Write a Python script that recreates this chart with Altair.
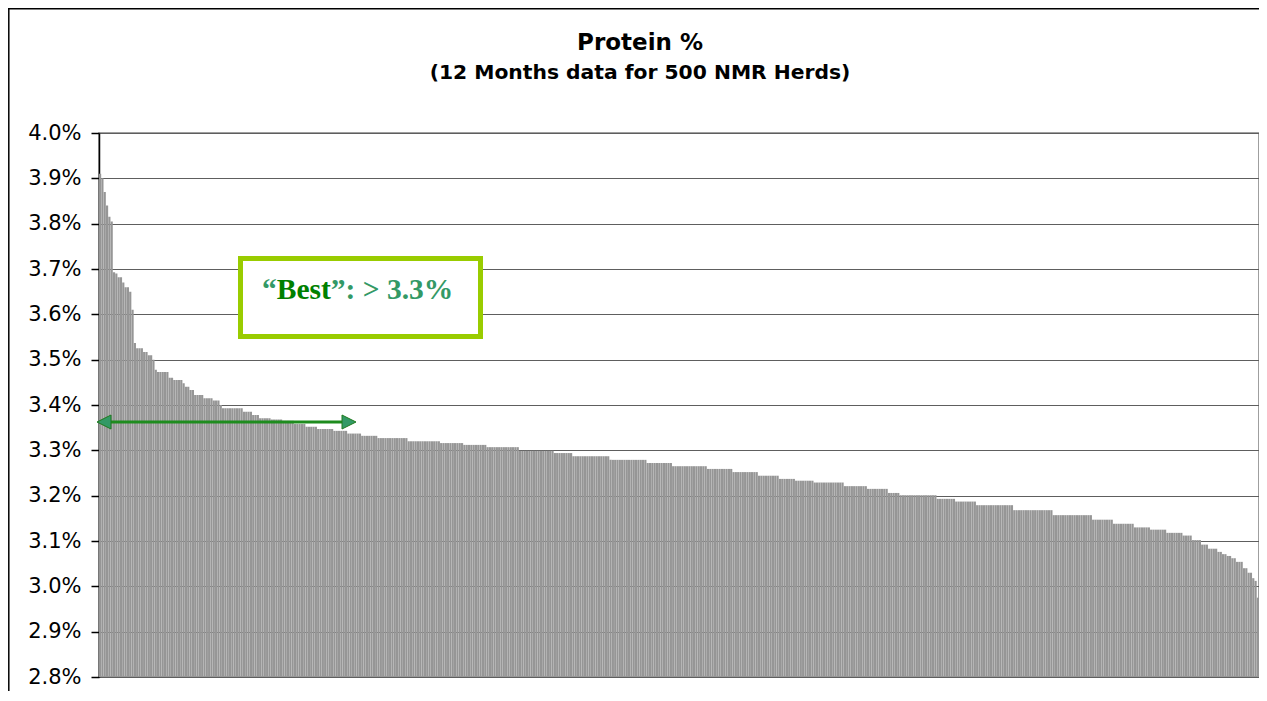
import altair as alt
import pandas as pd

protein_levels = [
    3.91, 3.90, 3.87, 3.84, 3.815, 3.805, 3.693, 3.69, 3.682, 3.67,
    3.66, 3.65, 3.61, 3.537, 3.525, 3.517, 3.51, 3.50, 3.478, 3.473,
    3.46, 3.455, 3.448, 3.44, 3.433, 3.422, 3.415, 3.41, 3.40, 3.393,
    3.385, 3.378, 3.371, 3.368, 3.365, 3.358, 3.352, 3.347, 3.343, 3.337,
    3.332, 3.327, 3.32, 3.316, 3.312, 3.307, 3.299, 3.294, 3.287, 3.279,
    3.272, 3.265, 3.259, 3.252, 3.244, 3.237, 3.233, 3.229, 3.221, 3.215,
    3.206, 3.201, 3.193, 3.187, 3.179, 3.168, 3.157, 3.147, 3.138, 3.13,
    3.125, 3.118, 3.112, 3.102, 3.092, 3.083, 3.076, 3.071, 3.067, 3.062,
    3.054, 3.04, 3.03, 3.018, 3.012, 2.975,
]
herd_counts = [
    1, 1, 1, 1, 1, 1, 1, 1, 2, 1,
    2, 1, 1, 1, 3, 2, 2, 1, 1, 5,
    2, 4, 1, 2, 2, 4, 4, 3, 1, 9,
    4, 3, 5, 5, 5, 5, 5, 7, 6, 6,
    7, 13, 14, 10, 10, 14, 15, 8, 16, 16,
    11, 15, 11, 11, 9, 7, 8, 13, 10, 9,
    5, 16, 8, 9, 16, 17, 17, 9, 9, 7,
    7, 7, 4, 4, 3, 4, 2, 2, 2, 2,
    3, 2, 2, 1, 1, 1,
]
tick_values = [2.8, 2.9, 3.0, 3.1, 3.2, 3.3, 3.4, 3.5, 3.6, 3.7, 3.8, 3.9, 4.0]
title_text = "Protein %"
subtitle_text = "(12 Months data for 500 NMR Herds)"
box_parts = ["\u201c", "Best", "\u201d: > 3.3%"]
arrow_level = [3.3625]

values = []
for v, c in zip(protein_levels, herd_counts):
    values += [v] * c
df = pd.DataFrame({"herd": list(range(len(values))), "protein": values})

W, H = 1160, 544
one = alt.Data(values=[{"k": 1}])

y_scale = alt.Scale(domain=[2.8, 4.0], zero=False, nice=False)

bars = alt.Chart(df).mark_bar(color="#969696", strokeWidth=0).encode(
    x=alt.X("herd:O", axis=None, scale=alt.Scale(paddingInner=0.06, paddingOuter=0)),
    y=alt.Y(
        "protein:Q",
        scale=y_scale,
        title=None,
        axis=alt.Axis(
            values=tick_values,
            labelExpr="format(datum.value, '.1f') + '%'",
        ),
    ),
    y2=alt.datum(2.8),
)

box = alt.Chart(one).mark_rect(fill="white", stroke="#99CC00", strokeWidth=5).encode(
    x=alt.value(141.5), x2=alt.value(381.5), y=alt.value(125.5), y2=alt.value(203.5)
)

txt_style = dict(font="Liberation Serif", fontSize=29.5, fontWeight="bold",
                 align="left", baseline="alphabetic")
t1 = alt.Chart(one).mark_text(text=box_parts[0], color="#339966", **txt_style).encode(
    x=alt.value(163), y=alt.value(166))
t2 = alt.Chart(one).mark_text(text=box_parts[1], color="#008000", **txt_style).encode(
    x=alt.value(177.75), y=alt.value(166))
t3 = alt.Chart(one).mark_text(text=box_parts[2], color="#339966", **txt_style).encode(
    x=alt.value(231.8), y=alt.value(166))

arrow_df = pd.DataFrame({"lvl": arrow_level})
arrow_line = alt.Chart(arrow_df).mark_rule(color="#1E8C1E", strokeWidth=3).encode(
    x=alt.value(10), x2=alt.value(244), y=alt.Y("lvl:Q", scale=y_scale))
head_l = alt.Chart(arrow_df).mark_point(
    shape="M1,-1L-1,0L1,1Z", size=196, filled=True, fill="#339966",
    stroke="#1E7B1E", strokeWidth=1, opacity=1).encode(
    x=alt.value(5), y=alt.Y("lvl:Q", scale=y_scale))
head_r = alt.Chart(arrow_df).mark_point(
    shape="M-1,-1L1,0L-1,1Z", size=196, filled=True, fill="#339966",
    stroke="#1E7B1E", strokeWidth=1, opacity=1).encode(
    x=alt.value(250), y=alt.Y("lvl:Q", scale=y_scale))

title = alt.Chart(one).mark_text(
    text=title_text, font="DejaVu Sans", fontSize=23, fontWeight="bold",
    align="center", baseline="alphabetic", color="black").encode(
    x=alt.value(541), y=alt.value(-83))
subtitle = alt.Chart(one).mark_text(
    text=subtitle_text, font="DejaVu Sans", fontSize=20.3, fontWeight="bold",
    align="center", baseline="alphabetic", color="black").encode(
    x=alt.value(541), y=alt.value(-54))

border_top = alt.Chart(one).mark_rule(color="black", strokeWidth=1.5).encode(
    x=alt.value(-91), x2=alt.value(1170), y=alt.value(-124.2))
border_left = alt.Chart(one).mark_rule(color="black", strokeWidth=1.5).encode(
    x=alt.value(-90.2), y=alt.value(-125), y2=alt.value(580))

chart = alt.layer(
    bars, box, t1, t2, t3, arrow_line, head_l, head_r, title, subtitle,
    border_top, border_left,
).properties(
    width=W, height=H,
    autosize=alt.AutoSizeParams(type="none"),
    padding={"left": 91, "top": 125, "right": 0, "bottom": 14},
).configure_view(
    stroke="#808080", strokeWidth=1.5
).configure_axis(
    domainColor="black", domainWidth=1.5, tickColor="black", tickWidth=1.5,
    tickSize=8, gridColor="#5e5e5e", gridWidth=1.2, labelFont="DejaVu Sans",
    labelFontSize=21, labelColor="black", labelPadding=10,
)

chart.save("out.html", embed_options={"renderer": "svg", "actions": False})
